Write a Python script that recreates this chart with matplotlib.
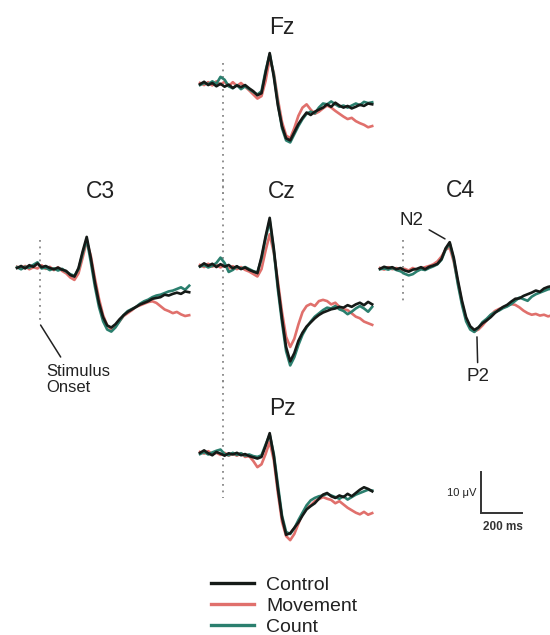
import matplotlib
matplotlib.use("Agg")
import matplotlib.pyplot as plt

plt.rcParams["font.family"] = ["Liberation Sans", "DejaVu Sans"]

# sample times, ms (one value every 20 ms)
times = list(range(-110, 731, 20))

# amplitudes in microvolts, negative plotted upwards
fz_control = [0.3, -0.3, 0.5, 0.0, 0.8, 0.2,
              0.9, 0.4, 1.2, 0.6, 1.0, 0.5, 1.3, 2.0, 3.0, 2.5,
              -2.5, -7.3, -1.5, 5.5, 10.5, 13.5, 14.0, 12.0, 10.0, 8.5,
              7.2, 7.8, 7.0, 6.5, 6.0, 5.2, 5.8, 4.8, 5.5, 6.0,
              5.6, 6.2, 5.8, 5.3, 5.6, 5.0, 5.2]
fz_movement = [0.0, 0.5, -0.2, 0.6, -0.4, 0.4,
               -0.3, 0.8, -0.2, 0.7, 0.0, 0.9, 1.8, 2.8, 3.8, 3.2,
               -0.5, -6.0, -2.5, 4.0, 9.5, 12.8, 13.5, 11.0, 8.0, 6.0,
               5.2, 6.5, 7.5, 7.0, 6.2, 5.5, 6.0, 6.8, 7.5, 8.2,
               8.8, 8.5, 9.3, 9.8, 10.2, 10.8, 10.5]
fz_count = [0.5, 0.0, 0.3, -0.4, 0.2, -1.5,
            -0.8, 0.8, 1.3, 0.5, 1.5, 0.8, 1.5, 2.2, 2.8, 2.0,
            -3.0, -7.0, -2.0, 5.0, 11.0, 14.0, 14.5, 12.5, 10.5, 8.8,
            7.5, 7.0, 7.4, 6.0, 5.0, 5.2, 4.5, 5.2, 5.8, 5.5,
            6.0, 5.5, 5.0, 5.4, 4.6, 4.9, 4.7]

c3_control = [0.5, 0.0, 0.6, -0.2, 0.2, -0.6,
              0.3, 0.0, 0.5, 0.8, 0.4, 0.9, 1.2, 2.2, 2.6, 0.5,
              -3.5, -7.1, -2.0, 4.0, 9.0, 12.5, 14.5, 15.0, 14.2, 13.0,
              12.0, 11.2, 10.6, 10.0, 9.4, 9.0, 8.6, 8.0, 7.8, 7.6,
              7.0, 7.2, 6.8, 6.5, 6.8, 6.2, 6.4]
c3_movement = [0.2, 0.6, 0.0, 0.8, 0.3, 0.6,
               -0.2, 0.7, 0.2, 1.0, 0.3, 1.2, 1.8, 2.8, 3.4, 1.8,
               -2.0, -6.0, -2.5, 3.0, 8.0, 12.0, 14.5, 15.5, 14.8, 13.5,
               12.2, 11.5, 10.8, 10.0, 9.6, 9.2, 8.8, 8.6, 9.0, 9.8,
               10.6, 11.0, 11.5, 11.2, 11.8, 12.2, 12.0]
c3_count = [0.3, 0.8, 0.2, 0.4, -0.3, -0.9,
            0.6, 0.4, 1.0, 0.6, 1.1, 0.7, 1.4, 2.0, 2.4, 0.8,
            -3.0, -6.5, -1.0, 5.0, 10.0, 13.5, 15.5, 16.0, 15.0, 13.5,
            12.0, 11.0, 10.5, 10.0, 9.2, 8.6, 8.2, 7.6, 7.2, 7.0,
            6.6, 6.2, 6.0, 5.6, 5.2, 5.8, 4.8]

cz_control = [0.3, -0.4, 0.2, -0.3, 0.5, -0.2,
              0.4, 0.0, 0.8, 0.3, 1.0, 0.6, 1.2, 1.6, 2.0, -2.0,
              -7.0, -11.5, -4.0, 5.0, 13.0, 20.0, 23.5, 21.5, 18.5, 16.5,
              15.0, 14.0, 13.0, 12.2, 11.6, 11.2, 10.8, 10.6, 10.2, 10.4,
              9.8, 10.2, 9.6, 9.2, 9.8, 9.0, 9.6]
cz_movement = [0.0, 0.5, -0.3, 0.4, 0.0, 0.6,
               0.0, 0.9, 0.3, 1.0, 0.5, 1.2, 1.6, 2.2, 2.8, 1.0,
               -3.5, -7.5, -3.0, 4.0, 11.5, 17.5, 20.0, 18.0, 14.5, 11.5,
               10.0, 9.5, 10.0, 8.8, 8.5, 8.8, 9.6, 9.2, 10.2, 10.8,
               11.0, 11.8, 12.6, 13.0, 13.8, 14.2, 14.6]
cz_count = [0.4, 0.0, 0.6, 0.2, -0.5, -1.8,
            -0.5, 1.7, 1.2, 0.4, 0.9, 0.5, 1.0, 1.5, 1.8, -1.5,
            -6.5, -10.8, -3.5, 6.0, 14.0, 21.0, 24.5, 22.5, 19.5, 17.0,
            15.2, 13.8, 12.6, 11.8, 11.0, 10.4, 10.6, 10.0, 10.8, 11.2,
            12.0, 11.4, 10.6, 10.0, 10.6, 11.4, 10.2]

c4_control = [0.2, -0.3, 0.0, -0.2, 0.3, 0.0,
              0.6, 0.9, 0.4, 0.2, -0.2, 0.3, -0.3, -0.6, -1.0, -2.2,
              -4.8, -6.3, -2.5, 3.0, 8.0, 12.0, 14.2, 15.1, 14.5, 13.5,
              12.8, 12.0, 11.0, 10.2, 9.5, 9.0, 8.2, 7.5, 7.4, 6.8,
              6.4, 6.0, 5.5, 5.8, 5.0, 4.6, 4.4]
c4_movement = [0.0, 0.4, -0.2, 0.3, 0.0, 0.5,
               0.2, 0.6, 0.0, 0.5, 0.1, -0.2, -0.5, -0.9, -1.6, -2.8,
               -4.5, -5.0, -1.5, 3.5, 8.5, 12.5, 14.5, 15.5, 15.0, 14.0,
               12.8, 11.5, 10.5, 10.0, 9.6, 9.2, 8.8, 9.0, 9.6, 10.4,
               11.0, 11.4, 11.2, 11.6, 11.4, 11.8, 11.5]
c4_count = [0.3, 0.1, 0.4, 0.0, 0.5, 0.8,
            1.4, 1.8, 1.5, 0.8, 0.3, 0.5, 0.0, -0.4, -0.9, -2.0,
            -4.5, -6.0, -2.0, 4.0, 9.0, 13.0, 15.0, 15.6, 14.6, 13.2,
            12.4, 11.4, 10.8, 10.4, 9.8, 9.4, 8.8, 8.0, 7.2, 7.6,
            8.0, 7.0, 6.4, 6.0, 5.6, 5.2, 5.0]

pz_control = [0.2, -0.4, 0.3, 0.8, 0.0, 0.4,
              0.9, 0.3, 0.6, 0.2, 0.8, 0.5, 1.0, 1.3, 1.6, 1.2,
              -1.5, -4.6, 1.0, 9.0, 16.0, 20.2, 19.8, 18.5, 17.2, 15.5,
              14.0, 13.2, 12.5, 11.4, 10.4, 10.0, 10.8, 11.2, 10.6, 11.0,
              10.2, 10.8, 10.0, 9.2, 8.6, 9.0, 9.6]
pz_movement = [0.0, 0.4, -0.2, 0.5, 0.2, 0.7,
               0.2, 0.9, 0.4, 0.9, 0.3, 1.2, 1.0, 2.2, 3.7, 3.0,
               0.5, -2.5, 2.0, 10.0, 17.0, 20.5, 21.5, 20.0, 17.5, 15.0,
               13.6, 13.0, 12.0, 11.5, 11.0, 11.4, 11.7, 12.5, 12.0, 12.8,
               13.6, 14.2, 14.8, 15.2, 14.6, 15.3, 14.9]
pz_count = [0.5, 0.0, 0.6, 0.1, -0.3, -0.6,
            0.5, 0.8, 0.2, 0.7, 0.3, 0.9, 0.6, 1.0, 1.2, 0.8,
            -1.8, -4.2, 0.5, 8.0, 15.5, 19.5, 20.0, 18.6, 16.6, 14.8,
            13.0, 11.8, 11.2, 10.8, 10.6, 10.2, 10.6, 11.0, 11.4, 10.8,
            11.6, 11.0, 10.4, 10.0, 9.6, 9.2, 9.4]

conditions = ["Control", "Movement", "Count"]
colors = {"Control": "#151a17", "Movement": "#e0706c", "Count": "#2b7f6e"}

W, H = 550, 635
PX_MS = 0.205   # pixels per ms
PX_UV = 4.1     # pixels per microvolt
T0, T1 = -110, 730
V0, V1 = -15, 27
TXT = "#222222"

fig = plt.figure(figsize=(W / 100, H / 100), dpi=100)


def panel(x0, base):
    top = base + V0 * PX_UV
    h = (V1 - V0) * PX_UV
    w = (T1 - T0) * PX_MS
    ax = fig.add_axes([x0 / W, 1 - (top + h) / H, w / W, h / H])
    ax.set_xlim(T0, T1)
    ax.set_ylim(V1, V0)
    ax.axis("off")
    ax.patch.set_alpha(0)
    return ax


def draw(ax, data, onset):
    ax.vlines(0, onset[0], onset[1], colors="#888888", linestyles=(0, (1, 2.6)),
              lw=1.3, clip_on=False, zorder=1)
    lines = {}
    for cond in ["Movement", "Count", "Control"]:
        lines[cond], = ax.plot(times, data[cond], color=colors[cond], lw=1.9,
                               solid_joinstyle="round", clip_on=False, zorder=3)
    return lines


def title(x, y, s):
    fig.text(x / W, 1 - y / H, s, ha="center", va="baseline", fontsize=16.5, color=TXT)


electrodes = {
    "Fz": (200, 83, {"Control": fz_control, "Movement": fz_movement, "Count": fz_count}, (-5, 27)),
    "C3": (17, 266, {"Control": c3_control, "Movement": c3_movement, "Count": c3_count}, (-6.3, 13.2)),
    "Cz": (200, 265, {"Control": cz_control, "Movement": cz_movement, "Count": cz_count}, (-21, 30)),
    "C4": (380, 268, {"Control": c4_control, "Movement": c4_movement, "Count": c4_count}, (-6.8, 8.5)),
    "Pz": (200, 452, {"Control": pz_control, "Movement": pz_movement, "Count": pz_count}, (-17.5, 11.2)),
}
title_pos = {"Fz": (282, 34), "C3": (100, 198), "Cz": (282, 198), "C4": (460, 197), "Pz": (282, 415)}

axes = {}
handles = None
for name, (x0, base, data, onset) in electrodes.items():
    ax = panel(x0, base)
    handles = draw(ax, data, onset)
    axes[name] = ax
    title(*title_pos[name], name)

# stimulus onset marker
ax = axes["C3"]
ax.annotate("", xy=(5, 14.4), xytext=(103, 22.2),
            arrowprops=dict(arrowstyle="-", color=TXT, lw=1.1, shrinkA=0, shrinkB=0),
            annotation_clip=False)
ax.text(31, 24.0, "Stimulus\nOnset", ha="left", va="top", fontsize=12,
        color=TXT, linespacing=1.05, clip_on=False)

# peak labels
ax = axes["C4"]
ax.annotate("N2", xy=(207, -7.1), xytext=(46, -11.7), ha="center", va="center",
            fontsize=13.5, color=TXT, annotation_clip=False,
            arrowprops=dict(arrowstyle="-", color=TXT, lw=1.1, shrinkA=2, shrinkB=0))
ax.annotate("P2", xy=(363, 16.8), xytext=(368, 26.5), ha="center", va="center",
            fontsize=13.5, color=TXT, annotation_clip=False,
            arrowprops=dict(arrowstyle="-", color=TXT, lw=1.1, shrinkA=2, shrinkB=0))

# scale bar: 10 uV by 200 ms, drawn in the Pz panel's units
ax = axes["Pz"]
sb_t, sb_v = 1261, 14.9
ax.plot([sb_t, sb_t, sb_t + 200], [sb_v - 10, sb_v, sb_v], color="#333333", lw=1.4,
        clip_on=False, solid_joinstyle="miter")
ax.text(sb_t - 22, sb_v - 5, "10 μV", ha="right", va="center", fontsize=8,
        color=TXT, clip_on=False)
ax.text(sb_t + 105, sb_v + 3.5, "200 ms", ha="center", va="center", fontsize=8.5,
        fontweight="bold", color="#333333", clip_on=False)

leg = fig.legend([handles[c] for c in conditions], conditions, loc="upper left",
                 bbox_to_anchor=(211 / W, 1 - 576 / H), frameon=False, fontsize=14,
                 handlelength=2.2, handletextpad=0.65, labelspacing=0.18,
                 borderpad=0, borderaxespad=0)
for line in leg.get_lines():
    line.set_linewidth(2.4)
for t in leg.get_texts():
    t.set_color(TXT)

fig.savefig("out.png", dpi=100)
plt.close()
